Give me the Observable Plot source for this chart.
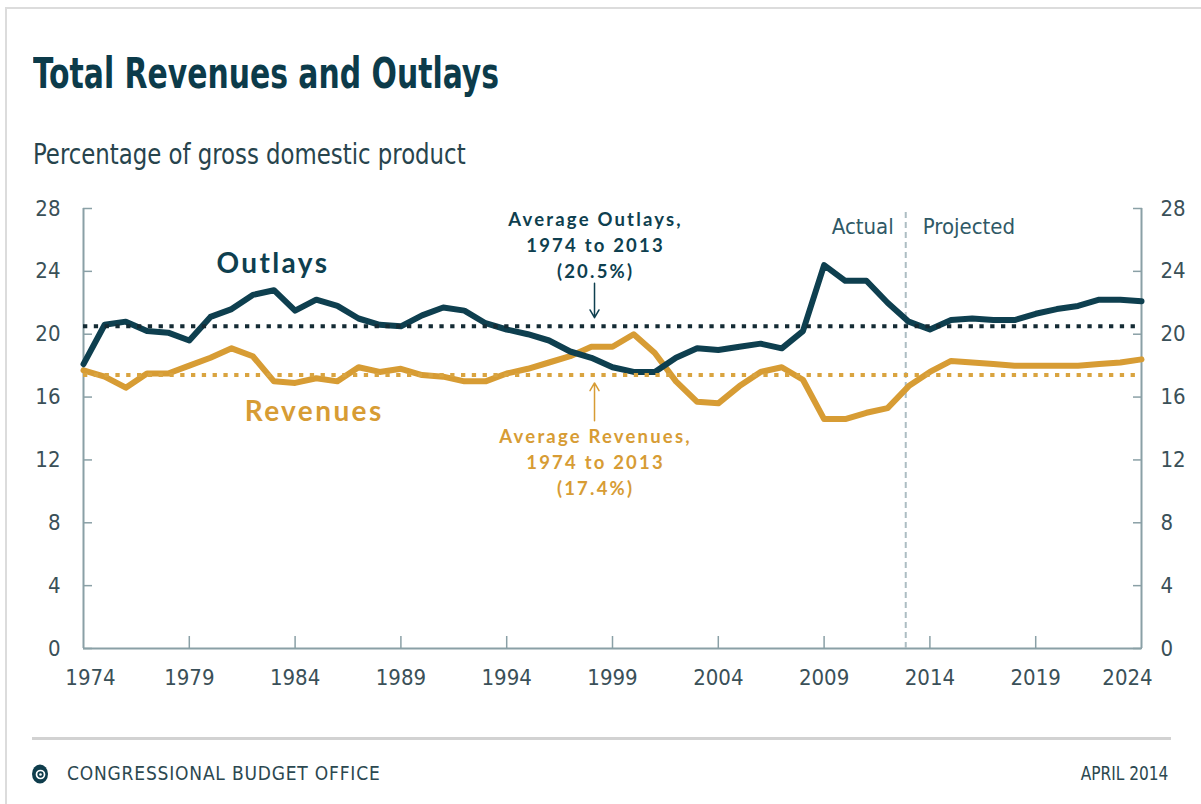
<!DOCTYPE html>
<html>
<head>
<meta charset="utf-8">
<script src="https://cdn.jsdelivr.net/npm/d3@7"></script>
<script src="https://cdn.jsdelivr.net/npm/@observablehq/plot@0.6"></script>
<style>
  html, body { margin: 0; padding: 0; background: #fff; }
  body { width: 1201px; height: 804px; position: relative; overflow: hidden; }
  #frame { position: absolute; left: 5px; top: 7px; width: 1210px; height: 810px;
           border-left: 2px solid #dcdcdc; border-top: 2px solid #dcdcdc; }
  .narrow { font-family: "Liberation Sans Narrow", "DejaVu Sans Condensed", "Arial Narrow", sans-serif; }
  #title { position: absolute; left: 33px; top: 53px; font-size: 42px; line-height: 42px;
           font-weight: bold; color: #0c3b4a; white-space: nowrap;
           transform: scaleX(0.79); transform-origin: 0 0; }
  #subtitle { position: absolute; left: 33px; top: 140px; font-size: 29px; line-height: 29px;
              color: #27444d; white-space: nowrap; transform: scaleX(0.875); transform-origin: 0 0; }
  #chart { position: absolute; left: 0; top: 190px; }
  #rule { position: absolute; left: 32px; top: 737px; width: 1139px; height: 3px; background: #d2d2d2; }
  #logo { position: absolute; left: 31px; top: 763px; }
  #cbo { position: absolute; left: 67px; top: 764px; font-size: 19px; line-height: 19px;
         letter-spacing: 0.8px; color: #2c4850; white-space: nowrap; }
  #date { position: absolute; right: 33px; top: 764px; font-size: 19px; line-height: 19px;
          letter-spacing: 0px; color: #2c4850; white-space: nowrap;
          transform: scaleX(0.9); transform-origin: 100% 0; }
  svg g[font-size="28"] text { letter-spacing: 2.4px; }
  svg g[font-size="18.5"] text { letter-spacing: 2.2px; }
</style>
</head>
<body>
<div id="frame"></div>
<div id="title" class="narrow">Total Revenues and Outlays</div>
<div id="subtitle" class="narrow">Percentage of gross domestic product</div>
<div id="chart"></div>
<div id="rule"></div>
<svg id="logo" width="20" height="22" viewBox="0 0 20 22">
  <ellipse cx="9" cy="11" rx="8" ry="9.5" fill="#0f3d4c"/>
  <circle cx="9.5" cy="11.5" r="4" fill="none" stroke="#fff" stroke-width="1.7"/>
  <circle cx="9.5" cy="11.5" r="1.3" fill="#fff"/>
</svg>
<div id="cbo" class="narrow">CONGRESSIONAL BUDGET OFFICE</div>
<div id="date" class="narrow">APRIL 2014</div>
<script>
// ---- data (percentage of GDP) ----
const years = [1974,1975,1976,1977,1978,1979,1980,1981,1982,1983,1984,1985,1986,1987,1988,1989,
  1990,1991,1992,1993,1994,1995,1996,1997,1998,1999,2000,2001,2002,2003,2004,2005,2006,2007,2008,
  2009,2010,2011,2012,2013,2014,2015,2016,2017,2018,2019,2020,2021,2022,2023,2024];
const outlays = [18.1,20.6,20.8,20.2,20.1,19.6,21.1,21.6,22.5,22.8,21.5,22.2,21.8,21.0,20.6,20.5,
  21.2,21.7,21.5,20.7,20.3,20.0,19.6,18.9,18.5,17.9,17.6,17.6,18.5,19.1,19.0,19.2,19.4,19.1,20.2,
  24.4,23.4,23.4,22.0,20.8,20.3,20.9,21.0,20.9,20.9,21.3,21.6,21.8,22.2,22.2,22.1];
const revenues = [17.7,17.3,16.6,17.5,17.5,18.0,18.5,19.1,18.6,17.0,16.9,17.2,17.0,17.9,17.6,17.8,
  17.4,17.3,17.0,17.0,17.5,17.8,18.2,18.6,19.2,19.2,20.0,18.8,17.0,15.7,15.6,16.7,17.6,17.9,17.1,
  14.6,14.6,15.0,15.3,16.7,17.6,18.3,18.2,18.1,18.0,18.0,18.0,18.0,18.1,18.2,18.4];
const averageOutlays = 20.5;
const averageRevenues = 17.4;
const lastActualYear = 2013;
const xTickYears = [1974,1979,1984,1989,1994,1999,2004,2009,2014,2019,2024];
const yTicks = [0,4,8,12,16,20,24,28];
const seriesNames = ["Outlays", "Revenues"];
const avgOutlaysLabel = "Average Outlays,\n1974 to 2013\n(20.5%)";
const avgRevenuesLabel = "Average Revenues,\n1974 to 2013\n(17.4%)";

const table = years.map((year, i) => ({year, outlays: outlays[i], revenues: revenues[i]}));
const firstYear = years[0], lastYear = years[years.length - 1];

// ---- styles ----
const cOut = "#0e3f4f", cOutDot = "#142b34";
const cRev = "#d79c34", cRevDot = "#d9a440";
const cAxis = "#8aa0a6", cTickText = "#3a5058";
const narrow = "Liberation Sans Narrow, DejaVu Sans Condensed, Arial Narrow, sans-serif";
const bold = "Lato, Noto Sans, sans-serif";

const plot = Plot.plot({
  width: 1201,
  height: 520,
  marginLeft: 83,
  marginRight: 60,
  marginTop: 18,
  marginBottom: 62,
  style: {fontFamily: narrow, fontSize: "22px", background: "transparent", overflow: "visible"},
  x: {domain: [firstYear, lastYear], label: null},
  y: {domain: [0, 28], label: null},
  marks: [
    // axis frame
    Plot.ruleX([firstYear, lastYear], {stroke: cAxis, strokeWidth: 2}),
    Plot.ruleY([0], {stroke: cAxis, strokeWidth: 2}),
    // y axes both sides, inward ticks
    Plot.axisY(yTicks, {anchor: "left", tickSize: -9, tickPadding: 32, stroke: cAxis, strokeWidth: 1.5,
      fill: cTickText, fontSize: 22, tickFormat: d => String(d)}),
    Plot.axisY(yTicks, {anchor: "right", tickSize: -9, tickPadding: 28, stroke: cAxis, strokeWidth: 1.5,
      fill: cTickText, fontSize: 22, textAnchor: "start", tickFormat: d => String(d)}),
    // x ticks (inward)
    Plot.axisX(xTickYears.slice(1, -1), {anchor: "bottom", tickSize: -12, stroke: cAxis, strokeWidth: 1.5, fill: "none"}),
    // x labels
    Plot.axisX(xTickYears.slice(1, -1), {anchor: "bottom", tickSize: 0, tickPadding: 21, fill: cTickText, fontSize: 22, tickFormat: d => String(d)}),
    Plot.axisX(xTickYears.slice(0, 1), {anchor: "bottom", tickSize: 0, tickPadding: 21, dx: 7, fill: cTickText, fontSize: 22, tickFormat: d => String(d)}),
    Plot.axisX(xTickYears.slice(-1), {anchor: "bottom", tickSize: 0, tickPadding: 21, dx: -14, fill: cTickText, fontSize: 22, tickFormat: d => String(d)}),
    // actual / projected divider
    Plot.ruleX([lastActualYear], {y1: 0, y2: 28, dx: -3, stroke: "#adbdc3", strokeWidth: 2, strokeDasharray: "6,4"}),
    Plot.text(["Actual"], {x: lastActualYear, y: 26.8, dx: -15, textAnchor: "end", fill: "#2f5966", fontSize: 22, fontFamily: narrow}),
    Plot.text(["Projected"], {x: lastActualYear, y: 26.8, dx: 14, textAnchor: "start", fill: "#2f5966", fontSize: 22, fontFamily: narrow}),
    // series
    Plot.line(table, {x: "year", y: "revenues", stroke: cRev, strokeWidth: 6, strokeLinejoin: "round"}),
    Plot.line(table, {x: "year", y: "outlays", stroke: cOut, strokeWidth: 6, strokeLinejoin: "round"}),
    // averages
    Plot.ruleY([averageOutlays], {x1: firstYear, x2: lastYear, stroke: cOutDot, strokeWidth: 4, strokeDasharray: "4.3,6.5"}),
    Plot.ruleY([averageRevenues], {x1: firstYear, x2: lastYear, stroke: cRevDot, strokeWidth: 4, strokeDasharray: "4.3,6.5"}),
    // series labels
    Plot.text([seriesNames[0]], {x: 1982.95, y: 24.45, fill: cOut, fontSize: 28, fontWeight: "bold", fontFamily: bold}),
    Plot.text([seriesNames[1]], {x: 1984.9, y: 15.05, fill: cRev, fontSize: 28, fontWeight: "bold", fontFamily: bold}),
    // average annotations
    Plot.text([avgOutlaysLabel], {x: 1998.2, y: 25.78, fill: cOut, fontSize: 18.5, fontWeight: "bold", fontFamily: bold, lineHeight: 1.42}),
    Plot.arrow([0], {x1: 1998.15, y1: 23.25, x2: 1998.15, y2: 21.05, stroke: cOut, strokeWidth: 1.5, headLength: 9, bend: 0}),
    Plot.text([avgRevenuesLabel], {x: 1998.2, y: 11.97, fill: cRev, fontSize: 18.5, fontWeight: "bold", fontFamily: bold, lineHeight: 1.42}),
    Plot.arrow([0], {x1: 1998.15, y1: 14.5, x2: 1998.15, y2: 16.9, stroke: cRev, strokeWidth: 1.5, headLength: 9, bend: 0})
  ]
});
document.getElementById("chart").appendChild(plot);
</script>
</body>
</html>
